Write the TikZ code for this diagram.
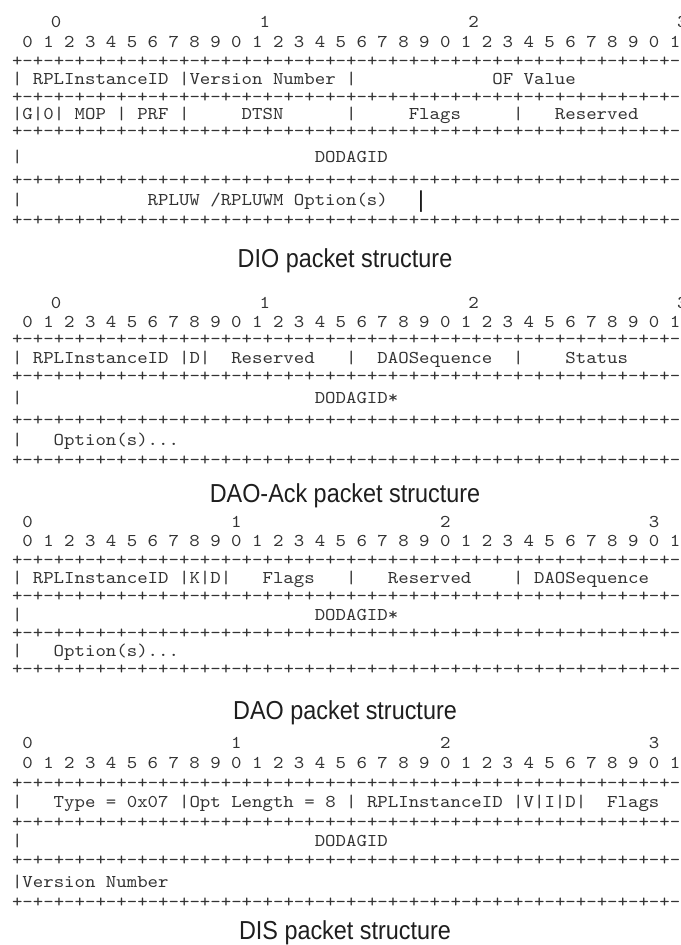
\documentclass[tikz,border=0pt]{standalone}
\usepackage{fontspec}
\usepackage{tikz}
\newfontfamily\pktmono[FakeStretch=1.105]{lmmono10-regular.otf}
\newfontfamily\pktsans[FakeStretch=0.9]{Liberation Sans}
\definecolor{asciiGray}{HTML}{333333}
\definecolor{captionDark}{HTML}{1E1E1E}
% mono font, one column = 10.44bp, blanks included
\newcommand\pktfont{\pktmono\fontsize{18bp}{22bp}\selectfont
  \fontdimen2\font=10.44bp\relax}
% n blank columns of the mono font
\newcommand\blk[1]{\hspace*{#1\fontdimen2\font}}
\newcommand\pktborder{%
+-+-+-+-+-+-+-+-%
+-+-+-+-+-+-+-+-%
+-+-+-+-+-+-+-+-%
+-+-+-+-+-+-+-+-+}
\newcommand\pktbits{%
~0~1~2~3~4~5~6~7~8~9%
~0~1~2~3~4~5~6~7~8~9%
~0~1~2~3~4~5~6~7~8~9%
~0~1}
\newcommand\pktgroups[1]{\blk{#1}0\blk{19}1\blk{19}2\blk{19}3}

\begin{document}
\begin{tikzpicture}[
  x=1bp, y=-1bp,
  ascii/.style={
    font=\pktfont,
    text=asciiGray, anchor=base west, inner sep=0pt, outer sep=0pt
  },
  pktcaption/.style={
    font=\pktsans\fontsize{26bp}{30bp}\selectfont,
    text=captionDark, anchor=base, inner sep=0pt
  },
]
\useasboundingbox (0,0) rectangle (681,945);
\clip (0,0) rectangle (681,945);
\fill[white] (0,0) rectangle (681,945);

% DIO
\node[ascii] (dioNum) at (9,27) {\pktgroups{4}};
\node[ascii] (dioBit) at (12,47) {\pktbits};
\node[ascii] (dioRa) at (12,66) {\pktborder};
\node[ascii] (dioRank) at (12,84) {|~RPLInstanceID~|Version~Number~|\blk{13}OF~Value};
\node[ascii] (dioRb) at (12,102) {\pktborder};
\node[ascii] (dioFlags) at (12,119) {|G|0|~MOP~|~PRF~|\blk{5}DTSN\blk{6}|\blk{5}Flags\blk{5}|\blk{3}Reserved};
\node[ascii] (dioRc) at (12,136) {\pktborder};
\node[ascii] (dioId) at (12,162) {|\blk{28}DODAGID};
\node[ascii] (dioRd) at (12,185) {\pktborder};
\node[ascii] (dioOpt) at (12,205) {|\blk{12}RPLUW~/RPLUWM~Option(s)};
\node[font=\pktsans\fontsize{23bp}{28bp}\selectfont, text=black, anchor=base, inner sep=0pt] (dioBar) at (421,207) {|};
\node[ascii] (dioRe) at (12,225) {\pktborder};
\node[pktcaption] (dioCap) at (345,267) {DIO packet structure};

% DAO-Ack
\node[ascii] (ackNum) at (9,308) {\pktgroups{4}};
\node[ascii] (ackBit) at (12,327) {\pktbits};
\node[ascii] (ackRa) at (12,344) {\pktborder};
\node[ascii] (ackHead) at (12,363) {|~RPLInstanceID~|D|\blk{2}Reserved\blk{3}|\blk{2}DAOSequence\blk{2}|\blk{4}Status};
\node[ascii] (ackRb) at (12,381) {\pktborder};
\node[ascii] (ackId) at (12,403) {|\blk{28}DODAGID*};
\node[ascii] (ackRc) at (12,425) {\pktborder};
\node[ascii] (ackOpt) at (12,445) {|\blk{3}Option(s)...\blk{48}|};
\node[ascii] (ackRd) at (12,465) {\pktborder};
\node[pktcaption] (ackCap) at (345,502) {DAO-Ack packet structure};

% DAO
\node[ascii] (daoNum) at (12,527) {\pktgroups{1}};
\node[ascii] (daoBit) at (12,546) {\pktbits};
\node[ascii] (daoRa) at (12,565) {\pktborder};
\node[ascii] (daoHead) at (12,583) {|~RPLInstanceID~|K|D|\blk{3}Flags\blk{3}|\blk{3}Reserved\blk{4}|~DAOSequence};
\node[ascii] (daoRb) at (12,601) {\pktborder};
\node[ascii] (daoId) at (12,620) {|\blk{28}DODAGID*};
\node[ascii] (daoRc) at (12,638) {\pktborder};
\node[ascii] (daoOpt) at (12,656) {|\blk{3}Option(s)...};
\node[ascii] (daoRd) at (12,674) {\pktborder};
\node[pktcaption] (daoCap) at (345,719) {DAO packet structure};

% DIS
\node[ascii] (disNum) at (12,748) {\pktgroups{1}};
\node[ascii] (disBit) at (12,768) {\pktbits};
\node[ascii] (disRa) at (12,788) {\pktborder};
\node[ascii] (disHead) at (12,807) {|\blk{3}Type~=~0x07~|Opt~Length~=~8~|~RPLInstanceID~|V|I|D|\blk{2}Flags};
\node[ascii] (disRb) at (12,827) {\pktborder};
\node[ascii] (disId) at (12,846) {|\blk{28}DODAGID};
\node[ascii] (disRc) at (12,865) {\pktborder};
\node[ascii] (disVer) at (12,887) {|Version~Number\blk{49}|};
\node[ascii] (disRd) at (12,907) {\pktborder};
\node[pktcaption] (disCap) at (345,939) {DIS packet structure};

\end{tikzpicture}
\end{document}
